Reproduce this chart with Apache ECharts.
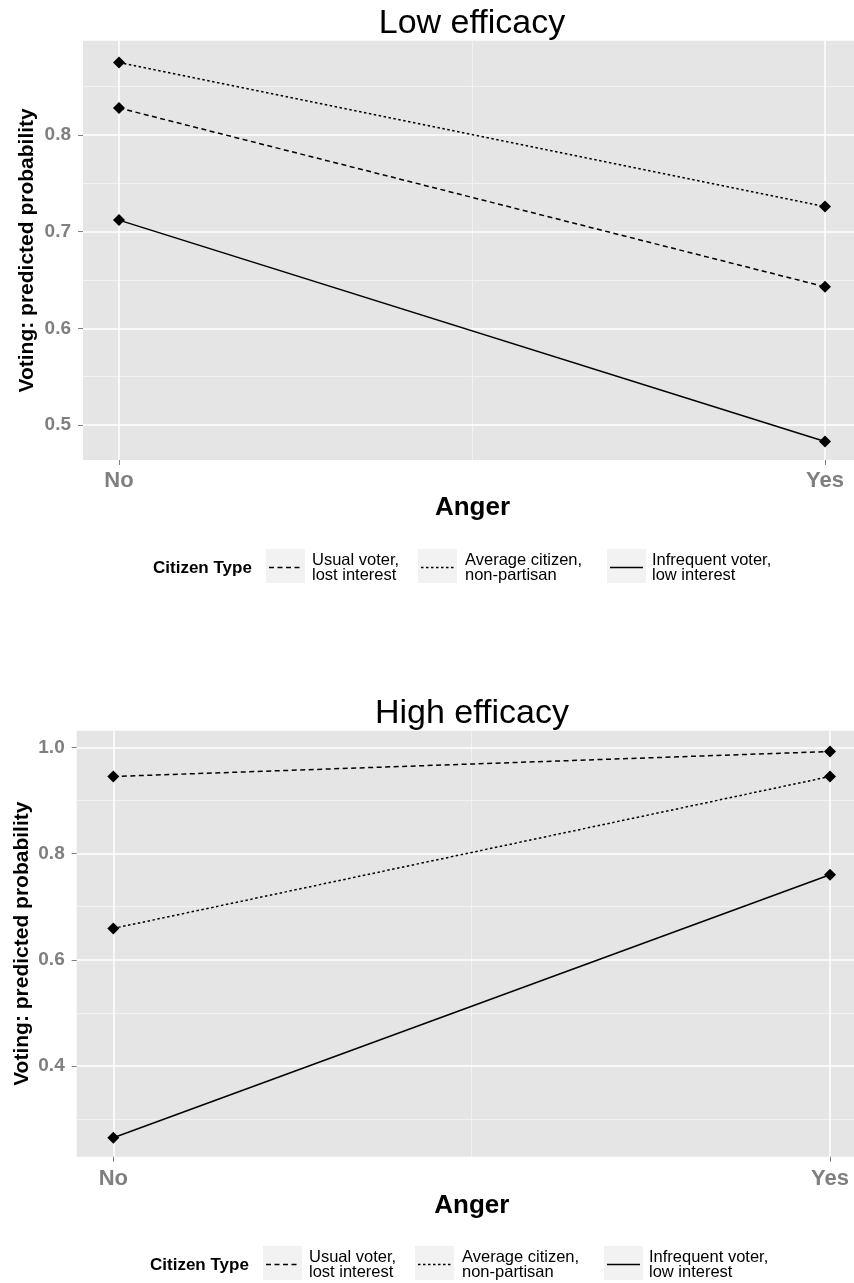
<!DOCTYPE html>
<html>
<head>
<meta charset="utf-8">
<script src="https://cdn.jsdelivr.net/npm/echarts@6/dist/echarts.min.js"></script>
<style>
  html, body { margin: 0; padding: 0; background: #ffffff; }
  #chart { width: 854px; height: 1283px; }
</style>
</head>
<body>
<div id="chart"></div>
<script>
// Anger levels on the x axis
const categories = ['No', 'Yes'];

// Citizen types (legend order)
const citizenTypes = ['Usual voter,\nlost interest', 'Average citizen,\nnon-partisan', 'Infrequent voter,\nlow interest'];

// Predicted probability of voting, low efficacy (No, Yes)
const lowUsual = [0.828, 0.643];
const lowAverage = [0.875, 0.726];
const lowInfrequent = [0.712, 0.483];

// Predicted probability of voting, high efficacy (No, Yes)
const highUsual = [0.945, 0.992];
const highAverage = [0.659, 0.945];
const highInfrequent = [0.265, 0.760];

// Tick values
const lowTicks = [0.5, 0.6, 0.7, 0.8];
const lowMinorTicks = [0.55, 0.65, 0.75, 0.85];
const highTicks = [0.4, 0.6, 0.8, 1.0];
const highMinorTicks = [0.3, 0.5, 0.7, 0.9];

const FONT = '"Liberation Sans", Arial, Helvetica, sans-serif';
const GREY = '#7f7f7f';
const lineTypes = [[5, 3.5], [2.5, 2.5], 'solid'];

const xTicks = categories.map((c, i) => i + 1);
const xMinorTicks = [1.5];

const panels = [
  {
    title: 'Low efficacy', titleY: 23.5,
    grid: { left: 83, top: 40.7, width: 771, height: 419.3 },
    xMin: 0.949, xMax: 2.0411, yMin: 0.4638, yMax: 0.8976,
    ticks: lowTicks, minor: lowMinorTicks,
    values: [lowUsual, lowAverage, lowInfrequent],
    xLabelMargin: 10, xNameGap: 35, xNamePad: 8, yNameGap: 45, legendDy: 0, legendDx: 0
  },
  {
    title: 'High efficacy', titleY: 713.4,
    grid: { left: 76.7, top: 730.7, width: 777.3, height: 426 },
    xMin: 0.9489, xMax: 2.0335, yMin: 0.2293, yMax: 1.0312,
    ticks: highTicks, minor: highMinorTicks,
    values: [highUsual, highAverage, highInfrequent],
    xLabelMargin: 11, xNameGap: 36, xNamePad: 13, yNameGap: 44, legendDy: 697, legendDx: -3
  }
];

const grids = [], xAxes = [], yAxes = [], series = [], graphics = [];

panels.forEach((p, i) => {
  grids.push(Object.assign({ show: true, backgroundColor: '#e5e5e5', borderWidth: 0 }, p.grid));

  // major x axis
  xAxes.push({
    type: 'value', gridIndex: i, min: p.xMin, max: p.xMax, z: 1,
    axisLine: { show: false },
    axisTick: { show: true, length: 5, customValues: xTicks, lineStyle: { color: GREY, width: 1 } },
    axisLabel: {
      customValues: xTicks, margin: p.xLabelMargin,
      formatter: v => categories[Math.round(v) - 1],
      color: GREY, fontSize: 22, fontWeight: 'bold', fontFamily: FONT
    },
    splitLine: { show: true, lineStyle: { color: '#ffffff', width: 1.5 } },
    name: 'Anger', nameLocation: 'middle', nameGap: p.xNameGap, nameMoveOverlap: false,
    nameTextStyle: { color: '#000', fontSize: 26, fontWeight: 'bold', fontFamily: FONT, padding: [0, 0, 0, p.xNamePad] }
  });
  // minor x axis
  xAxes.push({
    type: 'value', gridIndex: i, min: p.xMin, max: p.xMax, z: 0,
    axisLine: { show: false },
    axisTick: { show: false, customValues: xMinorTicks },
    axisLabel: { show: false, customValues: xMinorTicks },
    splitLine: { show: true, lineStyle: { color: '#f2f2f2', width: 1 } }
  });

  // major y axis
  yAxes.push({
    type: 'value', gridIndex: i, min: p.yMin, max: p.yMax, z: 1,
    axisLine: { show: false },
    axisTick: { show: true, length: 5, customValues: p.ticks, lineStyle: { color: GREY, width: 1 } },
    axisLabel: {
      customValues: p.ticks, margin: 12,
      formatter: v => v.toFixed(1),
      color: GREY, fontSize: 19, fontWeight: 'bold', fontFamily: FONT
    },
    splitLine: { show: true, lineStyle: { color: '#ffffff', width: 1.5 } },
    name: 'Voting: predicted probability', nameLocation: 'middle', nameGap: p.yNameGap, nameRotate: 90,
    nameMoveOverlap: false,
    nameTextStyle: { color: '#000', fontSize: 21, fontWeight: 'bold', fontFamily: FONT }
  });
  // minor y axis
  yAxes.push({
    type: 'value', gridIndex: i, min: p.yMin, max: p.yMax, z: 0,
    axisLine: { show: false },
    axisTick: { show: false, customValues: p.minor },
    axisLabel: { show: false, customValues: p.minor },
    splitLine: { show: true, lineStyle: { color: '#f2f2f2', width: 1 } }
  });

  p.values.forEach((vals, k) => {
    series.push({
      type: 'line', name: citizenTypes[k],
      xAxisIndex: 2 * i, yAxisIndex: 2 * i,
      data: vals.map((v, j) => [xTicks[j], v]),
      symbol: 'diamond', symbolSize: 12, showSymbol: true,
      itemStyle: { color: '#000' },
      lineStyle: { color: '#000', width: 1.5, type: lineTypes[k] },
      z: 3, silent: true, animation: false
    });
  });

  // panel title
  graphics.push({
    type: 'text', x: 472, y: p.titleY, silent: true,
    style: { text: p.title, fill: '#000', font: '34px ' + FONT, align: 'center', verticalAlign: 'middle' }
  });

  // legend
  const dy = p.legendDy, dx = p.legendDx;
  graphics.push({
    type: 'text', x: 153 + dx, y: 568 + dy, silent: true,
    style: { text: 'Citizen Type', fill: '#000', font: 'bold 17px ' + FONT, align: 'left', verticalAlign: 'middle' }
  });
  const boxX = [266, 418, 607];
  const labelX = [312, 465, 652];
  citizenTypes.forEach((name, k) => {
    graphics.push({
      type: 'rect', silent: true,
      shape: { x: boxX[k] + dx, y: 549 + dy, width: 39, height: 34 },
      style: { fill: '#f2f2f2' }
    });
    const dash = lineTypes[k];
    graphics.push({
      type: 'line', silent: true,
      shape: { x1: boxX[k] + dx + 3, y1: 567.5 + dy, x2: boxX[k] + dx + 36, y2: 567.5 + dy },
      style: { stroke: '#000', lineWidth: 1.5, lineDash: Array.isArray(dash) ? dash : null }
    });
    graphics.push({
      type: 'text', x: labelX[k] + dx, y: 568 + dy, silent: true,
      style: { text: name, fill: '#000', font: '16.5px ' + FONT, lineHeight: 15, align: 'left', verticalAlign: 'middle' }
    });
  });
});

const chart = echarts.init(document.getElementById('chart'), null, { renderer: 'canvas' });
chart.setOption({
  backgroundColor: '#ffffff',
  animation: false,
  grid: grids,
  xAxis: xAxes,
  yAxis: yAxes,
  series: series,
  graphic: graphics
});
</script>
</body>
</html>
